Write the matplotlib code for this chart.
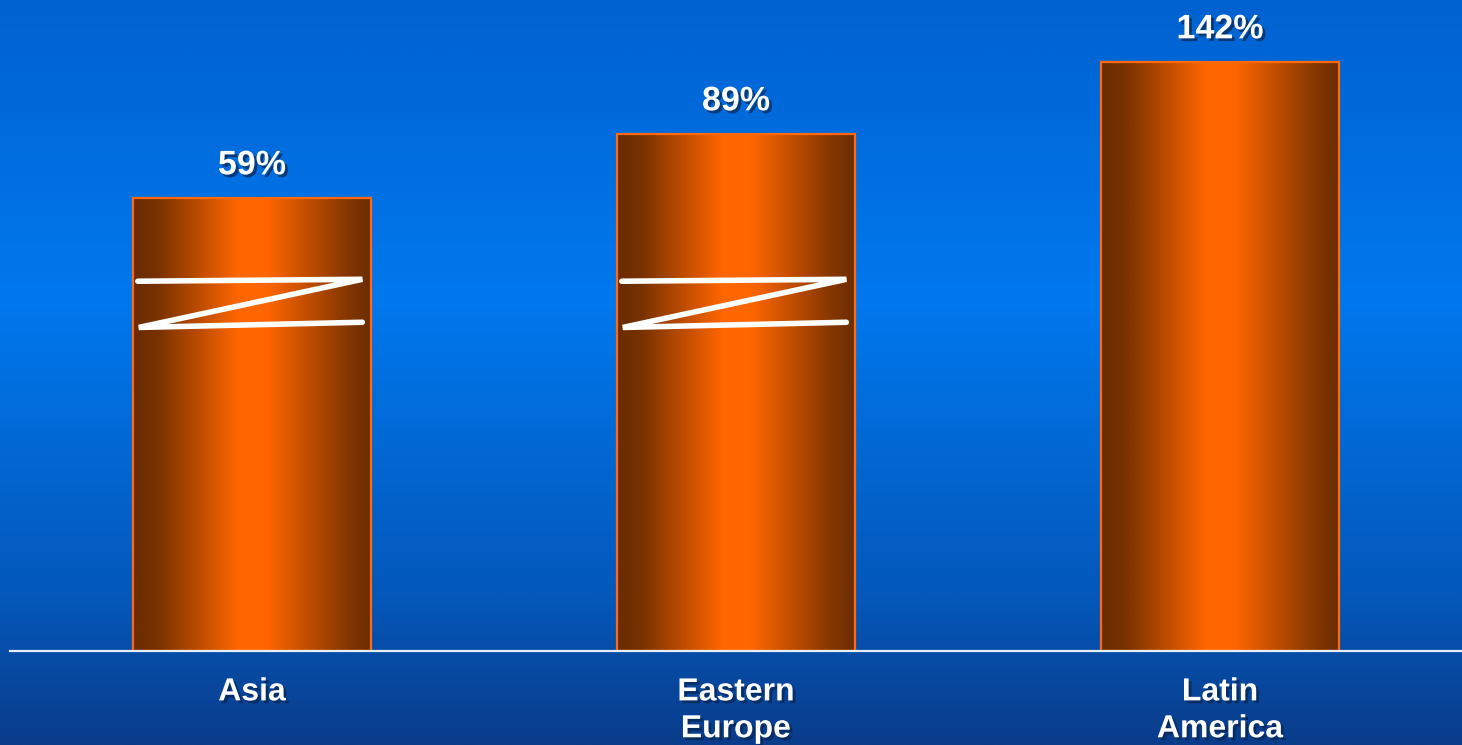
import numpy as np
import matplotlib
matplotlib.use("Agg")
import matplotlib.pyplot as plt
from matplotlib import patheffects as pe
from matplotlib.colors import LinearSegmentedColormap
import matplotlib.transforms as mtransforms

# ---- data ----
categories = ["Asia", "Eastern\nEurope", "Latin\nAmerica"]
values = [59, 89, 142]
value_labels = ["59%", "89%", "142%"]
broken = [True, True, False]  # bars drawn with a broken-axis mark

# broken (non-linear) axis: value knots -> relative display height
VALUE_KNOTS = [0, 59, 89, 142, 170]
POS_KNOTS = [0, 453, 517, 589, 651]

W, H, DPI = 1462, 745, 100
fig = plt.figure(figsize=(W / DPI, H / DPI), dpi=DPI)

# background gradient
bg = fig.add_axes([0, 0, 1, 1], zorder=-10)
bg_cmap = LinearSegmentedColormap.from_list(
    "bg", [(0.0, (0/255, 98/255, 208/255)),
           (0.40, (0/255, 120/255, 238/255)),
           (0.80, (4/255, 88/255, 186/255)),
           (1.0, (10/255, 60/255, 138/255))])
grad = np.linspace(0, 1, 512).reshape(-1, 1)
bg.imshow(grad, aspect="auto", cmap=bg_cmap, extent=[0, 1, 0, 1], origin="upper")
bg.set_axis_off()

ax = fig.add_axes([10 / W, 94 / H, (W - 10) / W, 651 / H])
ax.patch.set_alpha(0)

fwd = lambda v: np.interp(v, VALUE_KNOTS, POS_KNOTS)
inv = lambda p: np.interp(p, POS_KNOTS, VALUE_KNOTS)
ax.set_yscale("function", functions=(fwd, inv))
ax.set_ylim(0, 170)
ax.set_xlim(-0.5, 2.5)

x = np.arange(len(categories))
bar_w = 0.493
bars = ax.bar(x, values, width=bar_w, color="none", edgecolor="#FF6A10",
              linewidth=1.6, zorder=3)

bar_cmap = LinearSegmentedColormap.from_list(
    "bar", [(0.0, "#6A2C00"), (0.10, "#783200"), (0.44, "#FF6600"),
            (0.56, "#FF6600"), (0.90, "#843600"), (1.0, "#6A2C00")])
hgrad = np.linspace(0, 1, 256).reshape(1, -1)
for b in bars:
    x0, w, h = b.get_x(), b.get_width(), b.get_height()
    im = ax.imshow(hgrad, aspect="auto", cmap=bar_cmap,
                   extent=[x0, x0 + w, 0, h], zorder=2, interpolation="bilinear")
    im.set_clip_path(b)
ax.set_xlim(-0.5, 2.5)
ax.set_ylim(0, 170)

# broken-axis Z marks
trans = mtransforms.blended_transform_factory(ax.transData, ax.transAxes)
zx = np.array([-0.236, 0.228, -0.234, 0.228])
zy = np.array([0.568, 0.571, 0.497, 0.505])
for xi, br in zip(x, broken):
    if br:
        ax.plot(xi + zx, zy, color="white", lw=4.0, transform=trans,
                solid_capstyle="round", solid_joinstyle="miter", zorder=4)

shadow = [pe.SimplePatchShadow(offset=(2, -2), shadow_rgbFace="#06254f", alpha=0.7),
          pe.Normal()]
font = "Liberation Sans"
for xi, v, lab in zip(x, values, value_labels):
    ax.annotate(lab, (xi, v), xytext=(0, 12), textcoords="offset points",
                ha="center", va="bottom", fontsize=24.5, fontweight="bold",
                color="white", family=font, path_effects=shadow, zorder=5,
                annotation_clip=False)

ax.set_xticks(x)
ax.set_xticklabels(categories, fontsize=23, fontweight="bold", color="white",
                   family=font, linespacing=1.3)
for t in ax.get_xticklabels():
    t.set_path_effects(shadow)
ax.tick_params(axis="x", length=0, pad=19)
ax.set_yticks([])
for s in ["top", "right", "left"]:
    ax.spines[s].set_visible(False)
ax.spines["bottom"].set_color("#E8EEF6")
ax.spines["bottom"].set_linewidth(1.6)
ax.spines["bottom"].set_zorder(6)

fig.savefig("out.png", dpi=DPI)
